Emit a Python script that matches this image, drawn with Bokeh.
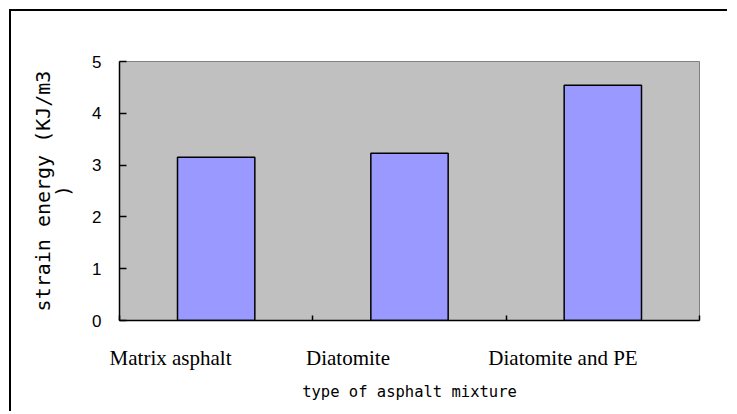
from bokeh.plotting import figure
from bokeh.models import ColumnDataSource, FixedTicker, Range1d, Spacer
from bokeh.layouts import column, row
from bokeh.embed import file_html
from bokeh.resources import INLINE

# ---- data ----
categories = ["Matrix asphalt", "Diatomite", "Diatomite and PE"]
strain_energy = [3.15, 3.23, 4.54]
y_ticks = [0, 1, 2, 3, 4, 5]
x_title = "type of asphalt mixture"
y_title = "strain energy (KJ/m3\n)"

# ---- label layout (style only): nudge of each category label, as a
# fraction of one category width, away from the category centre ----
label_nudge = [-0.236, -0.318, -0.206]

n = len(categories)
idx = list(range(n))
src = ColumnDataSource(dict(
    x=[i + 0.5 for i in idx],
    top=strain_energy,
))
label_pos = [round(i + 0.5 + d, 3) for i, d in zip(idx, label_nudge)]
boundaries = list(range(n + 1))

p = figure(width=716, height=400, output_backend="svg", toolbar_location=None,
           x_range=Range1d(0, n), y_range=Range1d(0, 5),
           min_border_left=108, min_border_right=28,
           min_border_top=50, min_border_bottom=91)

p.background_fill_color = "#C0C0C0"
p.border_fill_color = "white"
p.outline_line_color = "#808080"
p.outline_line_width = 1
p.xgrid.visible = False
p.ygrid.visible = False

p.vbar(x="x", top="top", width=0.4, bottom=0, source=src,
       fill_color="#9999FF", line_color="black", line_width=1.5)

# y axis
ya = p.yaxis[0]
ya.ticker = FixedTicker(ticks=y_ticks)
ya.major_tick_in = 7
ya.major_tick_out = 0
ya.minor_tick_line_color = None
ya.axis_line_color = "black"
ya.axis_line_width = 1.5
ya.major_tick_line_width = 1.5
ya.major_label_text_font = "Liberation Sans"
ya.major_label_text_font_size = "17px"
ya.major_label_text_color = "black"
ya.major_label_standoff = 18
ya.axis_label = y_title
ya.axis_label_text_font = "DejaVu Sans Mono"
ya.axis_label_text_font_size = "20px"
ya.axis_label_text_font_style = "normal"
ya.axis_label_text_color = "black"
ya.axis_label_text_line_height = 0.85
ya.axis_label_standoff = 14

# x axis: category labels on major ticks (zero length), boundary ticks as minor
xa = p.xaxis[0]
xa.ticker = FixedTicker(ticks=label_pos, minor_ticks=boundaries)
xa.major_label_overrides = {pos: name for pos, name in zip(label_pos, categories)}
xa.major_tick_in = 0
xa.major_tick_out = 0
xa.minor_tick_in = 5
xa.minor_tick_out = 0
xa.minor_tick_line_color = "black"
xa.minor_tick_line_width = 1.5
xa.axis_line_color = "black"
xa.axis_line_width = 1.5
xa.major_label_text_font = "Liberation Serif"
xa.major_label_text_font_size = "21px"
xa.major_label_text_color = "black"
xa.major_label_standoff = 25
xa.axis_label = x_title
xa.axis_label_text_font = "DejaVu Sans Mono"
xa.axis_label_text_font_size = "15.5px"
xa.axis_label_text_font_style = "normal"
xa.axis_label_text_color = "black"
xa.axis_label_standoff = 10

# chart-area border: only its top and left edges are shown
top_edge = Spacer(width=718, height=2, styles={"background-color": "black"})
left_edge = Spacer(width=2, height=400, styles={"background-color": "black"})
layout = column(top_edge, row(left_edge, p, spacing=0), spacing=0)
layout.styles = {"margin-left": "9px", "margin-top": "9px"}

open("out.html", "w").write(file_html(layout, INLINE))
